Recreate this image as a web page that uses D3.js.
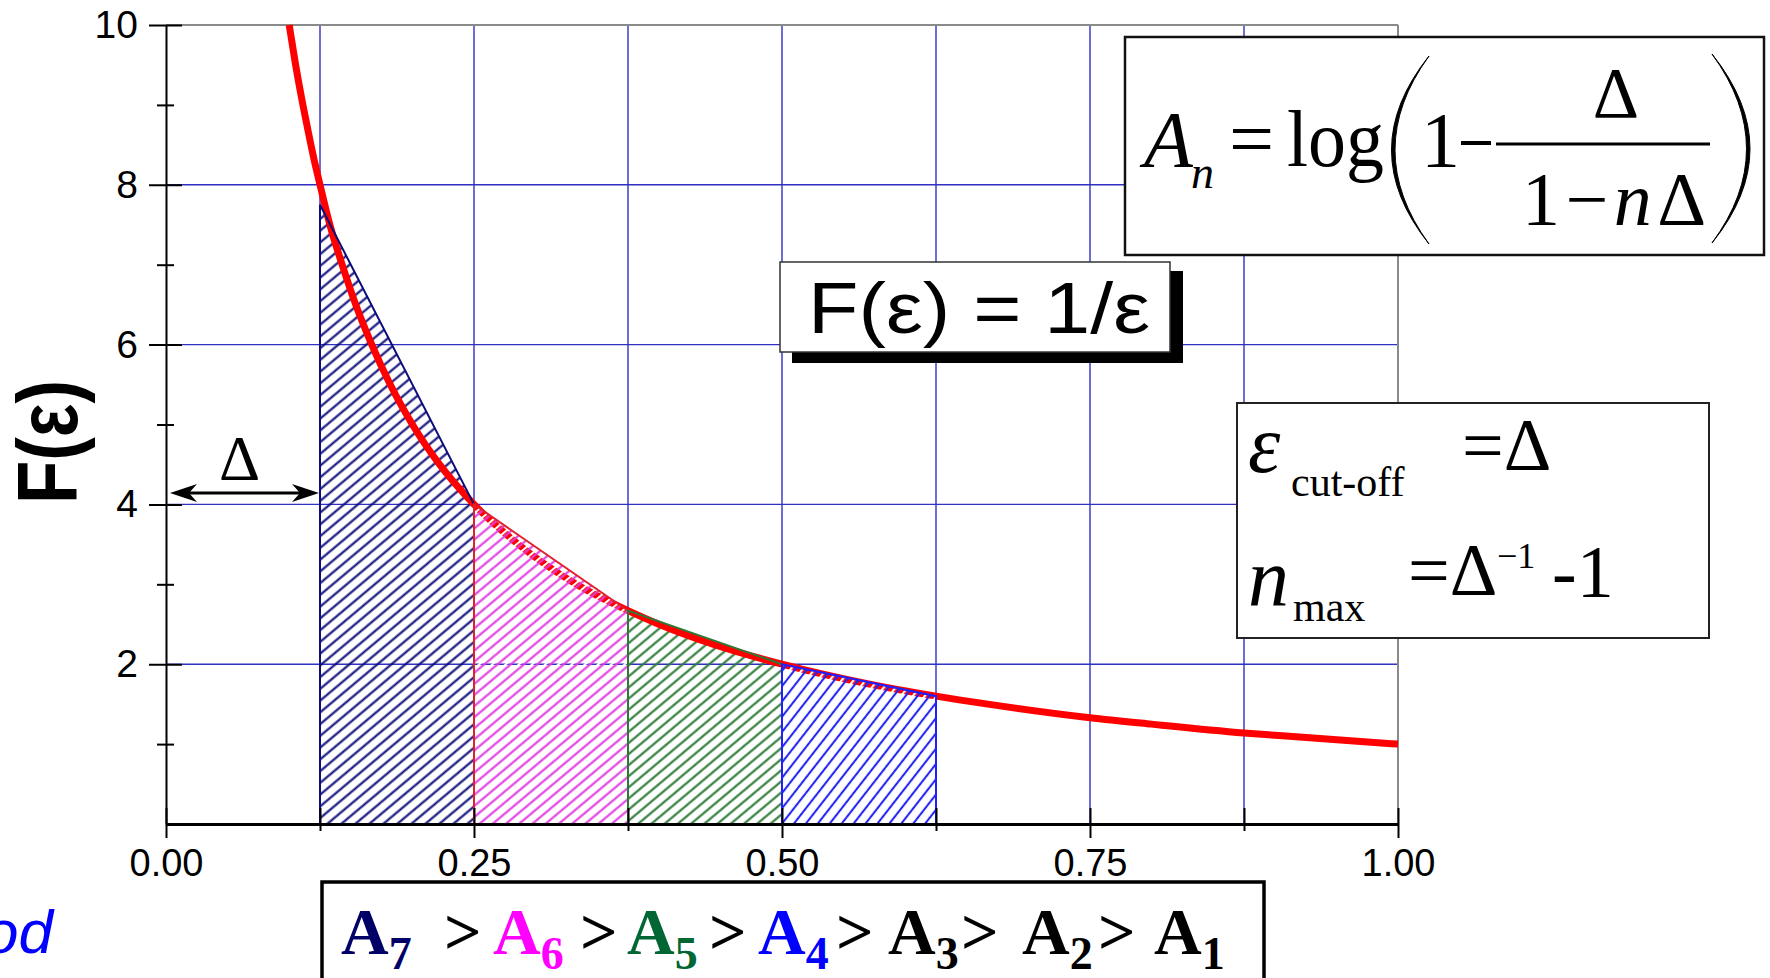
<!DOCTYPE html>
<html>
<head>
<meta charset="utf-8">
<script src="https://cdn.jsdelivr.net/npm/d3@7"></script>
<style>
  html, body { margin: 0; padding: 0; background: #fff; overflow: hidden; }
  svg { display: block; }
  .sans { font-family: "Liberation Sans", Arial, Helvetica, sans-serif; }
  .serif { font-family: "Liberation Serif", "Times New Roman", Times, serif; }
</style>
</head>
<body>
<svg id="chart" width="1770" height="978"></svg>
<script>
// F(eps) = 1/eps, sampled along the red curve
const epsSamples = [0.100, 0.105, 0.110, 0.115, 0.120, 0.125, 0.133, 0.143, 0.154, 0.167, 0.182, 0.200, 0.222, 0.250,
                    0.286, 0.333, 0.375, 0.400, 0.444, 0.500, 0.571, 0.625, 0.667, 0.750, 0.800, 0.875, 0.909, 1.000];
const fSamples   = [10.00, 9.52, 9.09, 8.70, 8.33, 8.00, 7.50, 7.00, 6.50, 6.00, 5.50, 5.00, 4.50, 4.00,
                    3.50, 3.00, 2.67, 2.50, 2.25, 2.00, 1.75, 1.60, 1.50, 1.33, 1.25, 1.14, 1.10, 1.00];

// hatched strips A7..A4: [start, end] on eps, chord heights at the two edges
const stripIndex    = [7, 6, 5, 4];
const stripStart    = [0.125, 0.250, 0.375, 0.500];
const stripEnd      = [0.250, 0.375, 0.500, 0.625];
const stripTopLeft  = [7.75, 4.00, 2.67, 2.00];
const stripTopRight = [4.00, 2.67, 2.00, 1.60];

// axes
const xMajor = [0, 0.25, 0.5, 0.75, 1];
const xTickLabels = ["0.00", "0.25", "0.50", "0.75", "1.00"];
const xMinor = [0.125, 0.375, 0.625, 0.875];
const yMajor = [2, 4, 6, 8, 10];
const yMinor = [1, 3, 5, 7, 9];

// ordering of the areas shown under the plot
const orderTerms = [7, 6, 5, 4, 3, 2, 1];

// ---------------------------------------------------------------
const svg = d3.select("#chart");
const defs = svg.append("defs");

const x = d3.scaleLinear().domain([0, 1]).range([166, 1398]);
const y = d3.scaleLinear().domain([0, 10]).range([824, 25]);

const stripStyle = {
  7: { hatch: "#0c0c7a", edge: "#0c0c7a", angle: 40, gap: 9.0, over: false, white: false },
  6: { hatch: "#e23ce2", edge: "#e0202c", angle: 40, gap: 8.5, over: true,  white: true  },
  5: { hatch: "#2b7a36", edge: "#2b7a36", angle: 40, gap: 8.5, over: false, white: false },
  4: { hatch: "#2626f0", edge: "#2020ff", angle: 52, gap: 9.4, over: true,  white: true  }
};
const termColor = { 7: "#000066", 6: "#ff00ff", 5: "#006633", 4: "#0000ff", 3: "#000", 2: "#000", 1: "#000" };

// hatch patterns
Object.entries(stripStyle).forEach(([n, s]) => {
  const p = defs.append("pattern")
    .attr("id", "hatch" + n)
    .attr("patternUnits", "userSpaceOnUse")
    .attr("width", s.gap).attr("height", s.gap)
    .attr("patternTransform", `rotate(${-s.angle})`);
  if (s.white) {
    p.append("line").attr("x1", 0).attr("x2", s.gap)
      .attr("y1", s.gap * 0.1).attr("y2", s.gap * 0.1)
      .attr("stroke", "#fff").attr("stroke-width", 2.4);
  }
  p.append("line").attr("x1", 0).attr("x2", s.gap)
    .attr("y1", s.gap / 2).attr("y2", s.gap / 2)
    .attr("stroke", s.hatch).attr("stroke-width", 2.1);
});

// grid
const gridX = [...xMinor, 0.25, 0.5, 0.75].sort((a, b) => a - b);
const gridY = yMajor.filter(v => v < 10);
svg.append("g").selectAll("line").data(gridX).join("line")
  .attr("x1", d => x(d)).attr("x2", d => x(d))
  .attr("y1", y(0)).attr("y2", y(10))
  .attr("stroke", "#3030c4").attr("stroke-width", 1.4);
svg.append("g").selectAll("line").data(gridY).join("line")
  .attr("x1", x(0)).attr("x2", x(1))
  .attr("y1", d => y(d)).attr("y2", d => y(d))
  .attr("stroke", "#3030c4").attr("stroke-width", 1.4);
svg.append("line").attr("x1", x(0)).attr("x2", x(1)).attr("y1", y(10)).attr("y2", y(10))
  .attr("stroke", "#8a8a8a").attr("stroke-width", 2);
svg.append("line").attr("x1", x(1)).attr("x2", x(1)).attr("y1", y(0)).attr("y2", y(10))
  .attr("stroke", "#8a8a8a").attr("stroke-width", 2);

// strips
const strips = stripIndex.map((n, i) => ({
  n, x0: stripStart[i], x1: stripEnd[i], t0: stripTopLeft[i], t1: stripTopRight[i]
}));
const stripPath = s => d3.line()([
  [x(s.x0), y(0)], [x(s.x0), y(s.t0)], [x(s.x1), y(s.t1)], [x(s.x1), y(0)]
]) + "Z";

const fillStrip = list => svg.append("g").selectAll("path").data(list).join("path")
  .attr("d", stripPath)
  .attr("fill", d => `url(#hatch${d.n})`)
  .attr("stroke", "none");

fillStrip(strips.filter(s => !stripStyle[s.n].over));

// curve
const curvePts = epsSamples.map((e, i) => [e, fSamples[i]]);
svg.append("path")
  .datum(curvePts)
  .attr("d", d3.line().x(d => x(d[0])).y(d => y(d[1])).curve(d3.curveMonotoneX))
  .attr("fill", "none")
  .attr("stroke", "#ff0000")
  .attr("stroke-width", 7)
  .attr("stroke-linecap", "butt");

fillStrip(strips.filter(s => stripStyle[s.n].over));

// strip outlines
svg.append("g").selectAll("path").data(strips).join("path")
  .attr("d", stripPath)
  .attr("fill", "none")
  .attr("stroke", d => stripStyle[d.n].edge)
  .attr("stroke-width", 2)
  .attr("stroke-linejoin", "miter");

// y axis
const gy = svg.append("g").attr("transform", `translate(${x(0)},0)`)
  .call(d3.axisLeft(y).tickValues(yMajor).tickSize(17).tickSizeOuter(0).tickPadding(11).tickFormat(d3.format("d")));
gy.select(".domain").attr("stroke", "#000").attr("stroke-width", 2);
gy.selectAll(".tick line").attr("x1", 16).attr("stroke", "#000").attr("stroke-width", 2);
gy.selectAll(".tick text").attr("class", "sans").style("font-size", "39px").attr("fill", "#000");

const gyMinor = svg.append("g").attr("transform", `translate(${x(0)},0)`)
  .call(d3.axisLeft(y).tickValues(yMinor).tickSize(9).tickFormat(""));
gyMinor.select(".domain").remove();
gyMinor.selectAll(".tick line").attr("x1", 8).attr("stroke", "#000").attr("stroke-width", 2);

// x axis
const gx = svg.append("g").attr("transform", `translate(0,${y(0)})`)
  .call(d3.axisBottom(x).tickValues(xMajor).tickSize(14).tickSizeOuter(0).tickPadding(11)
    .tickFormat((d, i) => xTickLabels[i]));
gx.select(".domain").attr("stroke", "#000").attr("stroke-width", 3);
gx.selectAll(".tick line").attr("y1", -16).attr("stroke", "#000").attr("stroke-width", 2);
gx.selectAll(".tick text").attr("class", "sans").style("font-size", "38px").attr("fill", "#000");

const gxMinor = svg.append("g").attr("transform", `translate(0,${y(0)})`)
  .call(d3.axisBottom(x).tickValues(xMinor).tickSize(7).tickFormat(""));
gxMinor.select(".domain").remove();
gxMinor.selectAll(".tick line").attr("y1", -16).attr("stroke", "#000").attr("stroke-width", 2);

// y axis title
svg.append("text").attr("class", "sans")
  .attr("transform", "translate(77,442) rotate(-90)")
  .attr("text-anchor", "middle")
  .style("font-size", "86px").style("font-weight", "bold")
  .attr("textLength", 124).attr("lengthAdjust", "spacingAndGlyphs")
  .text("F(ε)");

// cut-off width marker
const arrowY = 493;
const ax0 = x(0) + 4, ax1 = x(0.125) - 1;
svg.append("line").attr("x1", ax0 + 10).attr("x2", ax1 - 10).attr("y1", arrowY).attr("y2", arrowY)
  .attr("stroke", "#000").attr("stroke-width", 3);
svg.append("path")
  .attr("d", `M${ax0},${arrowY} L${ax0 + 27},${arrowY - 9} L${ax0 + 19},${arrowY} L${ax0 + 27},${arrowY + 9} Z`)
  .attr("fill", "#000");
svg.append("path")
  .attr("d", `M${ax1},${arrowY} L${ax1 - 27},${arrowY - 9} L${ax1 - 19},${arrowY} L${ax1 - 27},${arrowY + 9} Z`)
  .attr("fill", "#000");
svg.append("text").attr("class", "serif")
  .attr("x", (ax0 + ax1) / 2 - 5).attr("y", 480).attr("text-anchor", "middle")
  .style("font-size", "64px").text("Δ");

// F(eps) = 1/eps label with drop shadow
svg.append("rect").attr("x", 792).attr("y", 271).attr("width", 391).attr("height", 92).attr("fill", "#000");
svg.append("rect").attr("x", 780).attr("y", 262).attr("width", 390).attr("height", 90)
  .attr("fill", "#fff").attr("stroke", "#333").attr("stroke-width", 1.5);
svg.append("text").attr("class", "sans")
  .attr("x", 808).attr("y", 333)
  .style("font-size", "72px")
  .attr("textLength", 342).attr("lengthAdjust", "spacingAndGlyphs")
  .text("F(ε) = 1/ε");

// A_n formula box
svg.append("rect").attr("x", 1125).attr("y", 37).attr("width", 639).attr("height", 218)
  .attr("fill", "#fff").attr("stroke", "#111").attr("stroke-width", 2.5);
const fm = svg.append("g").attr("class", "serif").attr("fill", "#000");
fm.append("text").attr("x", 1144).attr("y", 167).style("font-size", "80px").style("font-style", "italic").text("A");
fm.append("text").attr("x", 1191).attr("y", 188).style("font-size", "46px").style("font-style", "italic").text("n");
fm.append("text").attr("x", 1229).attr("y", 166).style("font-size", "80px").text("=");
fm.append("text").attr("x", 1287).attr("y", 166).style("font-size", "80px")
  .attr("textLength", 97).attr("lengthAdjust", "spacingAndGlyphs").text("log");
fm.append("text").attr("x", 1421).attr("y", 166).style("font-size", "78px").text("1");
// minus sign of the main row
fm.append("line").attr("x1", 1461).attr("x2", 1491).attr("y1", 143).attr("y2", 143)
  .attr("stroke", "#000").attr("stroke-width", 4);
fm.append("line").attr("x1", 1496).attr("x2", 1710).attr("y1", 144).attr("y2", 144)
  .attr("stroke", "#000").attr("stroke-width", 3);
fm.append("text").attr("x", 1616).attr("y", 117).attr("text-anchor", "middle").style("font-size", "72px").text("Δ");
const den = fm.append("text").attr("x", 1522).attr("y", 225).style("font-size", "76px")
  .attr("textLength", 184).attr("lengthAdjust", "spacing");
den.append("tspan").text("1−");
den.append("tspan").style("font-style", "italic").text("n");
den.append("tspan").text("Δ");
// tall delimiters
fm.append("path")
  .attr("d", "M1429,56 Q1354,150 1429,244 Q1361,150 1429,56 Z")
  .attr("fill", "#000").attr("stroke", "#000").attr("stroke-width", 1);
fm.append("path")
  .attr("d", "M1712,54 Q1788,149 1712,243 Q1781,149 1712,54 Z")
  .attr("fill", "#000").attr("stroke", "#000").attr("stroke-width", 1);

// cut-off / n_max box
svg.append("rect").attr("x", 1237).attr("y", 403).attr("width", 472).attr("height", 235)
  .attr("fill", "#fff").attr("stroke", "#222").attr("stroke-width", 2);
const cb = svg.append("g").attr("class", "serif").attr("fill", "#000");
cb.append("text").attr("x", 1248).attr("y", 472).style("font-size", "82px").style("font-style", "italic").text("ε");
cb.append("text").attr("x", 1291).attr("y", 496).style("font-size", "42px").text("cut-off");
cb.append("text").attr("x", 1462).attr("y", 470).style("font-size", "74px").text("=Δ");
cb.append("text").attr("x", 1248).attr("y", 605).style("font-size", "82px").style("font-style", "italic").text("n");
cb.append("text").attr("x", 1293).attr("y", 621).style("font-size", "42px").text("max");
cb.append("text").attr("x", 1408).attr("y", 595).style("font-size", "74px").text("=Δ");
cb.append("text").attr("x", 1497).attr("y", 568).style("font-size", "36px").text("−1");
cb.append("text").attr("x", 1552).attr("y", 597).style("font-size", "74px").text("-1");

// ordering of the areas
svg.append("rect").attr("x", 322).attr("y", 882).attr("width", 942).attr("height", 130)
  .attr("fill", "#fff").attr("stroke", "#000").attr("stroke-width", 3.5);
const termX = [341, 493, 627, 758, 888, 1022, 1154];
const gtX = [444, 580, 709, 836, 961, 1098];
const ob = svg.append("g").attr("class", "serif").style("font-weight", "bold");
orderTerms.forEach((n, i) => {
  const t = ob.append("text").attr("x", termX[i]).attr("y", 954).attr("fill", termColor[n]);
  t.append("tspan").style("font-size", "66px").text("A");
  t.append("tspan").attr("dy", 15).style("font-size", "46px").text(n);
  if (i < gtX.length) {
    ob.append("text").attr("x", gtX[i]).attr("y", 954).attr("fill", "#000")
      .style("font-size", "66px").text(">");
  }
});

// caption fragment at the lower left
svg.append("text").attr("class", "sans")
  .attr("x", 53).attr("y", 953).attr("text-anchor", "end")
  .style("font-size", "62px").style("font-style", "italic").attr("fill", "#0000ff")
  .text("od");
</script>
</body>
</html>
